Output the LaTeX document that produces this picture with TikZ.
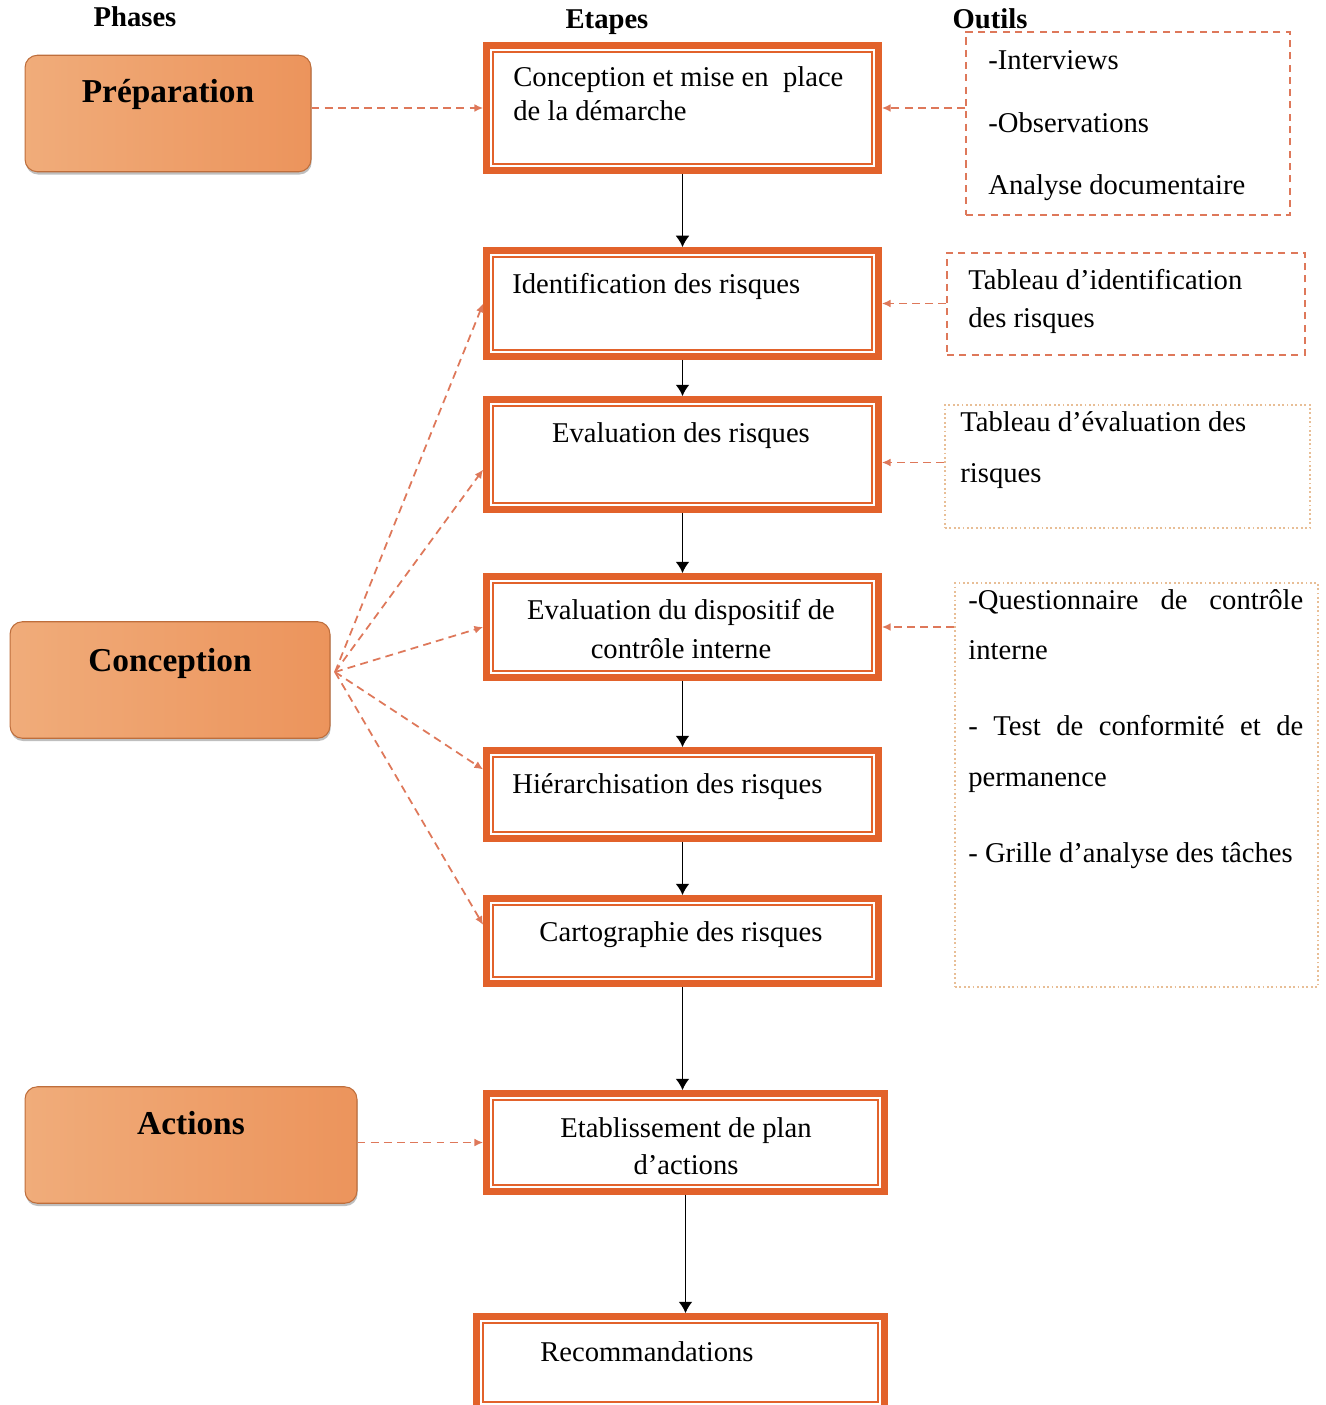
\documentclass[tikz,border=0pt]{standalone}
\usepackage{fontspec}
\setmainfont{Liberation Serif}
\usetikzlibrary{arrows.meta,shadows}

\definecolor{cadre}{RGB}{226,98,43}
\definecolor{pointille}{RGB}{222,120,90}
\definecolor{pointclair}{RGB}{232,190,150}
\definecolor{phasegauche}{RGB}{240,172,122}
\definecolor{phaseclair}{RGB}{247,205,165}
\definecolor{phasefonce}{RGB}{236,148,92}
\definecolor{phasebord}{RGB}{190,110,60}

\begin{document}
\begin{tikzpicture}[x=0.02cm,y=-0.02cm,
  every node/.style={font=\fontsize{16.3}{20}\selectfont},
  phase/.style={rounded corners=7pt,draw=phasebord,line width=0.6pt,
    left color=phasegauche,middle color=phaseclair,right color=phasefonce,
    minimum height=2.33cm,
    drop shadow={shadow xshift=0.4pt,shadow yshift=-1.6pt,opacity=0.5}},
  phasetxt/.style={font=\fontsize{19}{23}\selectfont\bfseries,inner sep=0pt},
  titre/.style={font=\fontsize{16.3}{20}\selectfont\bfseries,inner sep=0pt},
  etape/.style={draw=cadre,line width=3.8pt,minimum width=7.84cm},
  txt/.style={inner sep=0pt},
  outil/.style={draw=pointille,line width=0.9pt,dash pattern=on 4pt off 3pt},
  outilb/.style={draw=pointclair,line width=0.9pt,dash pattern=on 1pt off 1.5pt},
  suite/.style={-{Latex[length=6.5pt,width=8pt]},line width=1.1pt},
  lien/.style={pointille,line width=1pt,dash pattern=on 4.5pt off 3pt,
    -{Latex[length=5pt,width=4.5pt]}}]
\useasboundingbox (0,0) rectangle (1325,1405);

% en-tetes
\node[titre,anchor=base] (hphase) at (135,27) {Phases};
\node[titre,anchor=base] (hetape) at (607,29) {Etapes};
\node[titre,anchor=base] (houtil) at (990,29) {Outils};

% phases
\node[phase,minimum width=5.72cm] (prep) at (168,113.5) {};
\node[phasetxt,anchor=base] (tprep) at (168,103) {Préparation};
\node[phase,minimum width=6.4cm] (conc) at (170,680) {};
\node[phasetxt,anchor=base] (tconc) at (170,671) {Conception};
\node[phase,minimum width=6.64cm] (act) at (191,1145) {};
\node[phasetxt,anchor=base] (tact) at (191,1134) {Actions};

% etapes
\node[etape,minimum height=2.5cm] (e1) at (682.5,108) {};
\node[etape,minimum height=2.12cm] (e2) at (682.5,303.5) {};
\node[etape,minimum height=2.2cm] (e3) at (682.5,454.5) {};
\node[etape,minimum height=2.02cm] (e4) at (682.5,627) {};
\node[etape,minimum height=1.76cm] (e5) at (682.5,794.5) {};
\node[etape,minimum height=1.7cm] (e6) at (682.5,941) {};
\node[etape,minimum width=7.96cm,minimum height=1.96cm] (e7) at (685.5,1142.5) {};
\node[etape,minimum width=8.16cm,minimum height=1.84cm] (e8) at (680.5,1362.5) {};
\foreach \e in {e1,e2,e3,e4,e5,e6,e7,e8}
  \draw[cadre,line width=0.9pt] ([shift={(5.6pt,-5.6pt)}]\e.north west)
    rectangle ([shift={(-5.6pt,5.6pt)}]\e.south east);

% textes des etapes (ancre sur la derniere ligne)
\node[txt,anchor=base west,align=left,font=\fontsize{16.3}{19.9}\selectfont] (t1) at (513,121)
  {Conception et mise en\ \ place\\de la démarche};
\node[txt,anchor=base west] (t2) at (512,294) {Identification des risques};
\node[txt,anchor=base] (t3) at (681,442) {Evaluation des risques};
\node[txt,anchor=base,align=center,font=\fontsize{16.3}{22.1}\selectfont] (t4) at (681,658)
  {Evaluation du dispositif de\\contrôle interne};
\node[txt,anchor=base west] (t5) at (512,793) {Hiérarchisation des risques};
\node[txt,anchor=base] (t6) at (681,941) {Cartographie des risques};
\node[txt,anchor=base,align=center,font=\fontsize{16.3}{21}\selectfont] (t7) at (686,1174)
  {Etablissement de plan\\d’actions};
\node[txt,anchor=base west] (t8) at (540,1361) {Recommandations};

% outils
\node[outil,minimum width=6.48cm,minimum height=3.66cm] (o1) at (1128,123.5) {};
\node[outil,minimum width=7.16cm,minimum height=2.04cm] (o2) at (1126,304) {};
\node[outilb,minimum width=7.3cm,minimum height=2.46cm] (o3) at (1127.5,466.5) {};
\node[outilb,minimum width=7.26cm,minimum height=8.08cm] (o4) at (1136.5,785) {};

\node[txt,anchor=base west,align=left,font=\fontsize{16.3}{35.7}\selectfont] (u1) at (988,195)
  {-Interviews\\-Observations\\Analyse documentaire};
\node[txt,anchor=base west,align=left,font=\fontsize{16.3}{22.1}\selectfont] (u2) at (968,328)
  {Tableau d’identification\\des risques};
\node[txt,anchor=base west,align=left,font=\fontsize{16.3}{28.9}\selectfont] (u3) at (960,482)
  {Tableau d’évaluation des\\risques};
\node[txt,anchor=base west,text width=6.7cm,align=justify,
  font=\fontsize{16.3}{28.9}\selectfont] (u4) at (968,609)
  {-Questionnaire de \mbox{contrôle} interne\\[0.5cm]- Test de conformité et de \mbox{permanence}\\[0.5cm]- Grille d’analyse des tâches};

% fleches
\foreach \a/\b in {e1/e2,e2/e3,e3/e4,e4/e5,e5/e6,e6/e7,e7/e8}
  \draw[suite] (\a.south) -- (\a.south |- \b.north);

\draw[lien] (prep.east |- e1.west) -- (e1.west);
\coordinate (hub) at (335,672);
\draw[lien] (hub) -- (e2.west);
\draw[lien] (hub) -- ([yshift=-0.3cm]e3.west);
\draw[lien] (hub) -- (e4.west);
\draw[lien] (hub) -- ([yshift=0.5cm]e5.west);
\draw[lien] (hub) -- ([yshift=0.32cm]e6.west);
\draw[lien] (act.east |- e7.west) -- (e7.west);

\draw[lien] (o1.west |- e1.east) -- (e1.east);
\draw[lien] (o2.west |- e2.east) -- (e2.east);
\draw[lien] ([yshift=-0.16cm]o3.west |- e3.east) -- ([yshift=-0.16cm]e3.east);
\draw[lien] (o4.west |- e4.east) -- (e4.east);
\end{tikzpicture}
\end{document}
